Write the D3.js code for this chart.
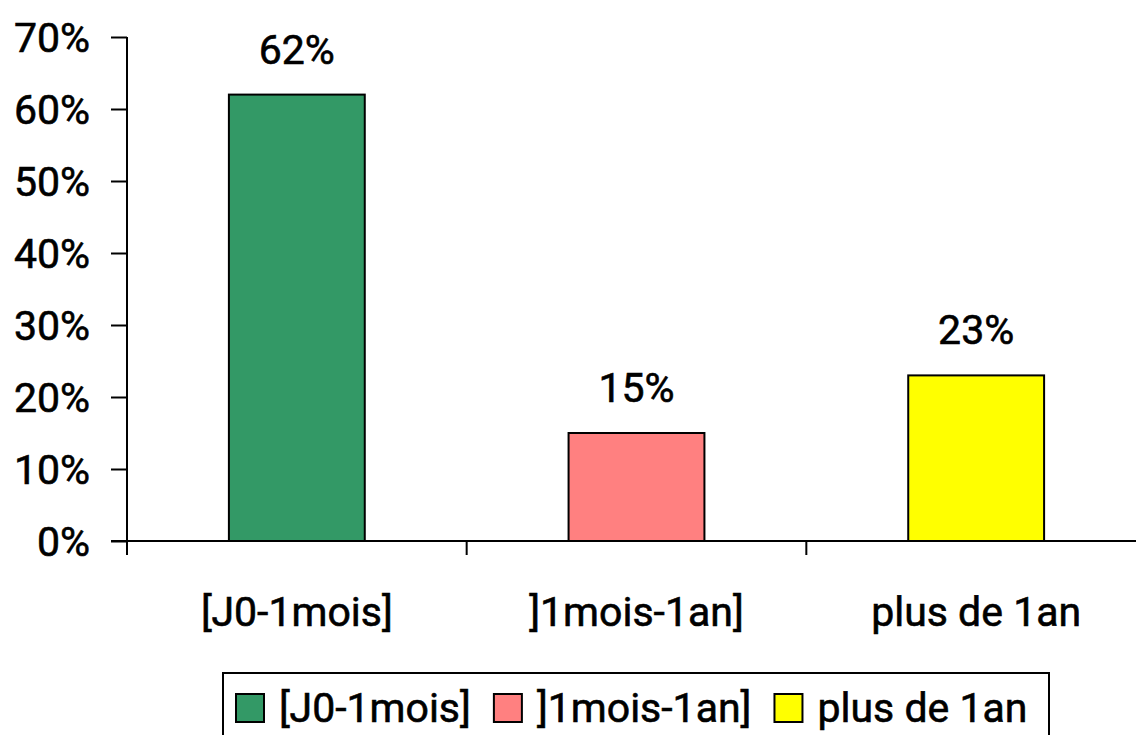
<!DOCTYPE html>
<html>
<head>
<meta charset="utf-8">
<script src="https://cdn.jsdelivr.net/npm/d3@7"></script>
<style>
  html, body { margin: 0; padding: 0; background: #fff; overflow: hidden; }
  svg text { font-family: Roboto, "Open Sans", sans-serif; font-weight: 400; fill: #000; }
</style>
</head>
<body>
<svg id="chart" width="1136" height="735"></svg>
<script>
// Share of cases by delay category
const categories = ["[J0-1mois]", "]1mois-1an]", "plus de 1an"];
const values = [0.62, 0.15, 0.23];
const colors = ["#339966", "#FF8080", "#FFFF00"];
const yTicks = [0, 0.1, 0.2, 0.3, 0.4, 0.5, 0.6, 0.7];

const svg = d3.select("#chart");
const fontSize = 41;

const x = d3.scaleBand().domain(categories).range([127, 1146]).paddingInner(0).paddingOuter(0);
const y = d3.scaleLinear().domain([0, 0.7]).range([541, 37]);
const fmt = d3.format(".0%");

// Bars
const barW = x.bandwidth() * 0.4;
svg.append("g").selectAll("rect")
  .data(categories)
  .join("rect")
  .attr("x", (d) => x(d) + (x.bandwidth() - barW) / 2)
  .attr("y", (d, i) => y(values[i]))
  .attr("width", barW)
  .attr("height", (d, i) => y(0) - y(values[i]))
  .attr("fill", (d, i) => colors[i])
  .attr("stroke", "#000")
  .attr("stroke-width", 2);

// Value labels above bars
svg.append("g").selectAll("text")
  .data(categories)
  .join("text")
  .attr("x", (d) => x(d) + x.bandwidth() / 2)
  .attr("y", (d, i) => y(values[i]) - 31)
  .attr("text-anchor", "middle")
  .style("font-size", fontSize + "px")
  .style("stroke", "#000")
  .style("stroke-width", 0.6)
  .text((d, i) => fmt(values[i]));

// Y axis
const yAxis = svg.append("g")
  .attr("transform", "translate(127,0)")
  .call(d3.axisLeft(y).tickValues(yTicks).tickFormat(fmt).tickSize(16).tickPadding(21));
yAxis.select(".domain").attr("d", `M0,${y(0.7)}V${y(0)}`).attr("stroke-width", 2);
yAxis.selectAll(".tick line").attr("stroke-width", 2);
yAxis.selectAll(".tick text")
  .attr("dy", "0.36em")
  .style("font-size", fontSize + "px")
  .style("font-family", "Roboto, sans-serif")
  .style("stroke", "#000")
  .style("stroke-width", 0.6);

// X axis with ticks at category boundaries
const xAxis = svg.append("g").attr("transform", `translate(0,${y(0)})`);
xAxis.append("line")
  .attr("x1", 111).attr("x2", 1136)
  .attr("stroke", "#000").attr("stroke-width", 2);
xAxis.selectAll("line.tick")
  .data(categories)
  .join("line")
  .attr("class", "tick")
  .attr("x1", (d) => x(d)).attr("x2", (d) => x(d))
  .attr("y1", 0).attr("y2", 14)
  .attr("stroke", "#000").attr("stroke-width", 2);
xAxis.selectAll("text")
  .data(categories)
  .join("text")
  .attr("x", (d) => x(d) + x.bandwidth() / 2)
  .attr("y", 85)
  .attr("text-anchor", "middle")
  .style("font-size", fontSize + "px")
  .style("stroke", "#000")
  .style("stroke-width", 0.6)
  .text((d) => d);

// Legend
const legend = svg.append("g");
legend.append("rect")
  .attr("x", 223).attr("y", 673)
  .attr("width", 826).attr("height", 80)
  .attr("fill", "#fff").attr("stroke", "#000").attr("stroke-width", 2);
let lx = 236;
categories.forEach((c, i) => {
  legend.append("rect")
    .attr("x", lx).attr("y", 694)
    .attr("width", 28).attr("height", 28)
    .attr("fill", colors[i]).attr("stroke", "#000").attr("stroke-width", 2);
  const t = legend.append("text")
    .attr("x", lx + 43).attr("y", 722)
    .style("font-size", fontSize + "px")
    .style("stroke", "#000")
    .style("stroke-width", 0.6)
    .text(c);
  lx = lx + 43 + t.node().getComputedTextLength() + 23;
});
</script>
</body>
</html>
